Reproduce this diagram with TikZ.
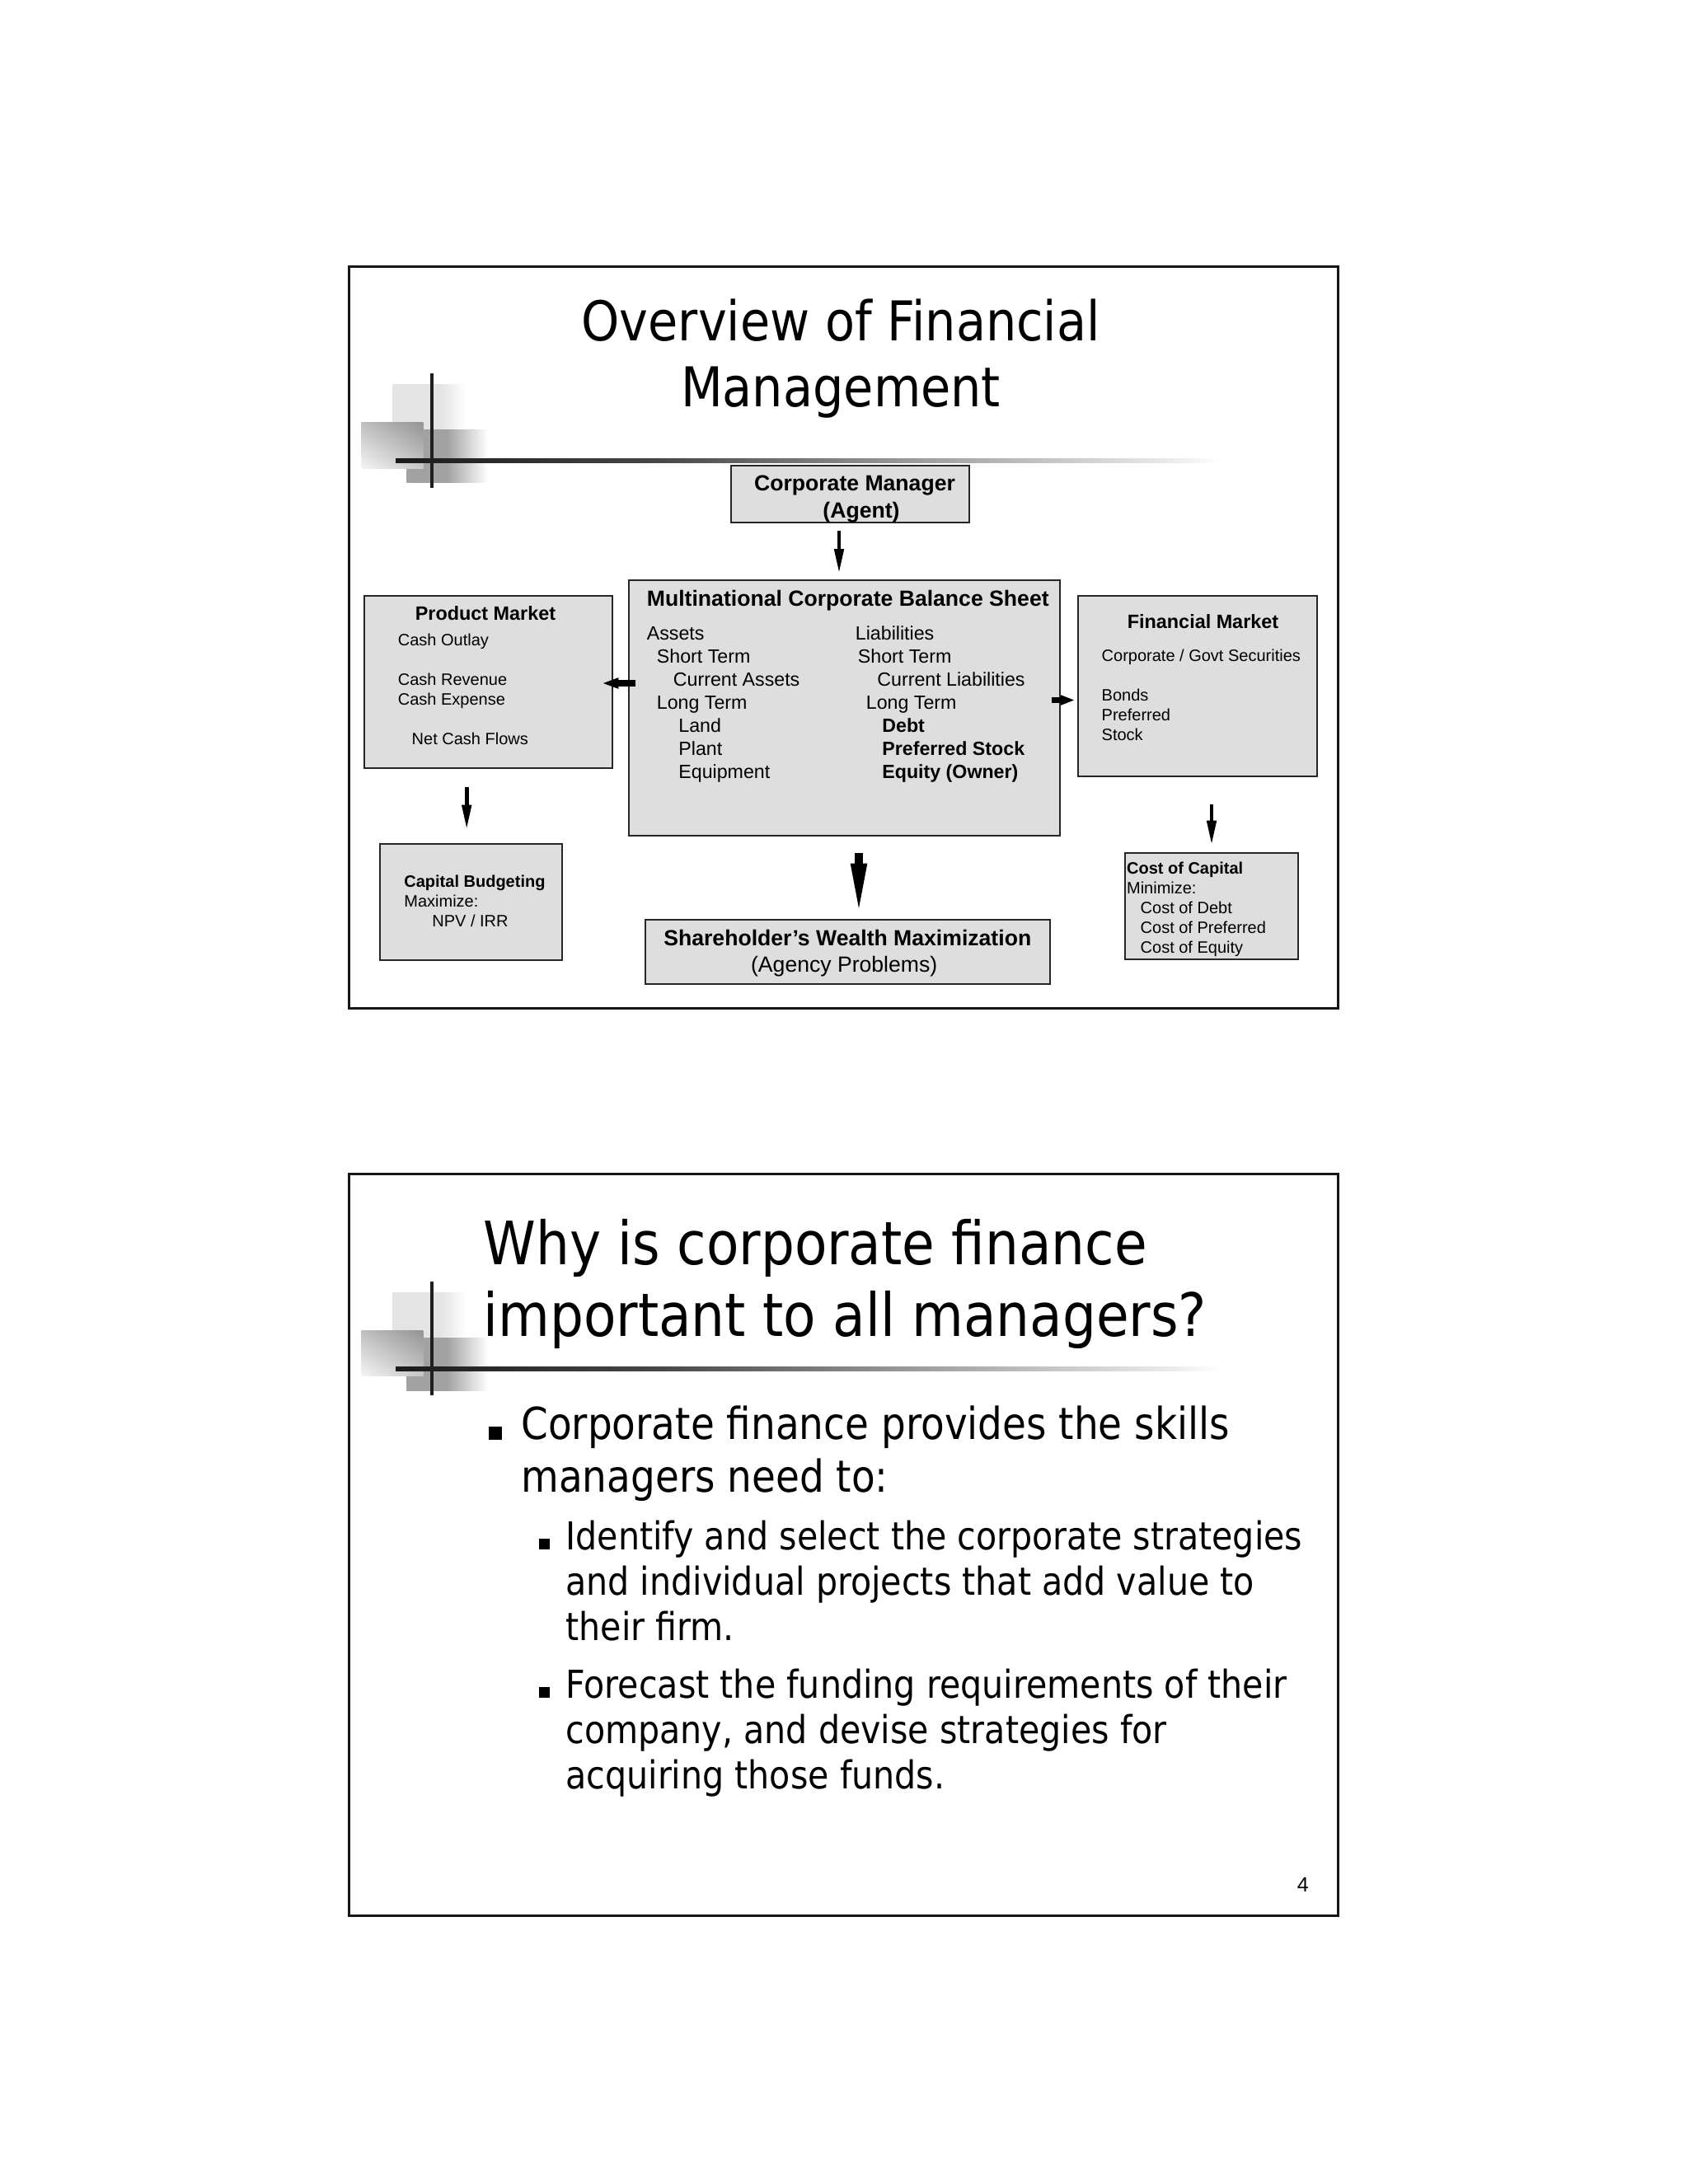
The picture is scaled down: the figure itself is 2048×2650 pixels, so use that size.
\documentclass[tikz,border=0pt]{standalone}
\usepackage{fontspec}
\setmainfont{Liberation Sans}
\newfontfamily\tahA[FakeStretch=0.884]{DejaVu Sans}
\newfontfamily\tahB[FakeStretch=0.888]{DejaVu Sans}
\newfontfamily\tahC[FakeStretch=0.877]{DejaVu Sans}
\newfontfamily\tahD[FakeStretch=0.882]{DejaVu Sans}
\usetikzlibrary{arrows.meta,fit,calc,shadings}
\definecolor{boxfill}{RGB}{222,222,222}
\definecolor{boxline}{RGB}{38,38,38}
\definecolor{framecol}{RGB}{22,22,22}
\definecolor{sqlight}{RGB}{228,228,228}
\definecolor{sqdark}{RGB}{162,162,162}
\pgfdeclarehorizontalshading{lightsq}{100bp}{color(0bp)=(sqlight); color(58bp)=(sqlight); color(75bp)=(white); color(100bp)=(white)}
\pgfdeclarehorizontalshading{darksq}{100bp}{color(0bp)=(sqdark); color(50bp)=(sqdark); color(75bp)=(white); color(100bp)=(white)}
\pgfdeclarehorizontalshading{hlineshade}{100bp}{color(0bp)=(black!90); color(25bp)=(black!90); color(41bp)=(black!72); color(57bp)=(black!38); color(72bp)=(black!8); color(75bp)=(white); color(100bp)=(white)}
\newcommand\slidedeco{%
  \shade[shading=lightsq] (476.7,466.7) rectangle (565,522);
  \shade[shading=darksq] (493.3,521.7) rectangle (591.7,585.7);
  \shade[upper right=black!42, upper left=black!25, lower right=black!22, lower left=black!4] (438.3,512.7) rectangle (513.3,568.3);
  \shade[shading=hlineshade] (480,556.5) rectangle (1480,561.5);
  \draw[line width=2.2pt, black!88] (524,453.3) -- (524,591.7);
}
\begin{document}
\begin{tikzpicture}[x=0.5pt,y=-0.5pt,
  frame/.style={draw=framecol, line width=1.6pt, inner sep=0pt},
  fbox/.style={draw=boxline, fill=boxfill, line width=1pt, inner sep=0pt},
  txt/.style={anchor=base west, inner sep=0pt},
  ctxt/.style={anchor=base, inner sep=0pt},
  bul/.style={fill=black, inner sep=0pt, minimum size=#1},
  tarrow/.style={draw=black, line width=2.3pt, -{Triangle[length=15pt,width=5.5pt]}},
  larrow/.style={draw=black, line width=3.6pt, -{Triangle[length=10pt,width=6pt]}},
  rarrow/.style={draw=black, line width=3.2pt, -{Triangle[length=8.5pt,width=5.5pt]}},
  barrow/.style={draw=black, line width=4.7pt, -{Triangle[length=32pt,width=8.7pt]}},
  titleA/.style={font=\tahA\fontsize{33.3}{40}\selectfont},
  titleB/.style={font=\tahB\fontsize{36.3}{43.5}\selectfont},
  bulA/.style={font=\tahC\fontsize{26.75}{31.7}\selectfont},
  bulB/.style={font=\tahD\fontsize{23.35}{27.5}\selectfont},
  hbig/.style={font=\fontsize{13.3}{16}\selectfont\bfseries},
  nbig/.style={font=\fontsize{13.3}{16}\selectfont},
  hmid/.style={font=\fontsize{11.7}{14}\selectfont\bfseries},
  nmid/.style={font=\fontsize{11.6}{14}\selectfont},
  bmid/.style={font=\fontsize{11.6}{14}\selectfont\bfseries},
  hsm/.style={font=\fontsize{10}{12}\selectfont\bfseries},
  nsm/.style={font=\fontsize{10}{12}\selectfont}
]
\useasboundingbox (0,0) rectangle (2048,2650);
\fill[white] (0,0) rectangle (2048,2650);

% ---------------- Slide 1 ----------------
\node[frame, fit={(423.5,323.3)(1623.5,1223.3)}] (slideA) {};
\begin{scope}
\slidedeco
\end{scope}
\node[ctxt, titleA] (tA1) at (1020,413.3) {Overview of Financial};
\node[ctxt, titleA] (tA2) at (1020,493.3) {Management};

% boxes
\node[fbox, fit={(886.6,565)(1176,634)}] (cm) {};
\node[fbox, fit={(762.5,704)(1285.7,1014)}] (bs) {};
\node[fbox, fit={(441.7,722.7)(742.8,931.7)}] (pm) {};
\node[fbox, fit={(1308.3,722.7)(1598.3,941.7)}] (fm) {};
\node[fbox, fit={(460.8,1024.3)(681.9,1165)}] (cb) {};
\node[fbox, fit={(782.8,1115.7)(1273.8,1194.3)}] (swm) {};
\node[fbox, fit={(1365,1035)(1575,1164)}] (coc) {};

% corporate manager
\node[ctxt, hbig] (cm1) at (1037,595.5) {Corporate Manager};
\node[ctxt, hbig] (cm2) at (1045,628.5) {(Agent)};

% balance sheet
\node[txt, hbig] (bsT) at (784.5,735.7) {Multinational Corporate Balance Sheet};
\node[txt, nmid] (bsa1) at (784.5,776) {Assets};
\node[txt, nmid] (bsa2) at (796.5,804) {Short Term};
\node[txt, nmid] (bsa3) at (816.5,832) {Current Assets};
\node[txt, nmid] (bsa4) at (796.5,860.7) {Long Term};
\node[txt, nmid] (bsa5) at (823,888.7) {Land};
\node[txt, nmid] (bsa6) at (823,916.7) {Plant};
\node[txt, nmid] (bsa7) at (823,944.7) {Equipment};
\node[txt, nmid] (bsl1) at (1037.5,776) {Liabilities};
\node[txt, nmid] (bsl2) at (1040.5,804) {Short Term};
\node[txt, nmid] (bsl3) at (1064,832) {Current Liabilities};
\node[txt, nmid] (bsl4) at (1050.5,860.7) {Long Term};
\node[txt, bmid] (bsl5) at (1070,888.7) {Debt};
\node[txt, bmid] (bsl6) at (1070,916.7) {Preferred Stock};
\node[txt, bmid] (bsl7) at (1070,944.7) {Equity (Owner)};

% product market
\node[ctxt, hmid] (pmT) at (589,752.7) {Product Market};
\node[txt, nsm] (pm1) at (482.5,783.3) {Cash Outlay};
\node[txt, nsm] (pm2) at (482.5,831.7) {Cash Revenue};
\node[txt, nsm] (pm3) at (482.5,855.7) {Cash Expense};
\node[txt, nsm] (pm4) at (499.3,903.3) {Net Cash Flows};

% financial market
\node[ctxt, hmid] (fmT) at (1459.5,762.7) {Financial Market};
\node[txt, nsm] (fm1) at (1336.3,802.7) {Corporate / Govt Securities};
\node[txt, nsm] (fm2) at (1336.3,850.7) {Bonds};
\node[txt, nsm] (fm3) at (1336.3,874.7) {Preferred};
\node[txt, nsm] (fm4) at (1336.3,898.3) {Stock};

% capital budgeting
\node[txt, hsm] (cbT) at (490,1076.7) {Capital Budgeting};
\node[txt, nsm] (cb1) at (490,1100) {Maximize:};
\node[txt, nsm] (cb2) at (524,1124) {NPV / IRR};

% shareholder
\node[ctxt, hbig] (swT) at (1028.3,1147.7) {Shareholder’s Wealth Maximization};
\node[ctxt, nbig] (sw1) at (1024.2,1179.5) {(Agency Problems)};

% cost of capital
\node[txt, hsm] (cocT) at (1366.7,1060) {Cost of Capital};
\node[txt, nsm] (coc1) at (1366.7,1084) {Minimize:};
\node[txt, nsm] (coc2) at (1383.3,1108) {Cost of Debt};
\node[txt, nsm] (coc3) at (1383.3,1132.3) {Cost of Preferred};
\node[txt, nsm] (coc4) at (1383.3,1156) {Cost of Equity};

% arrows
\coordinate (a1x) at (1018,0);
\coordinate (a2y) at (0,829);
\coordinate (a3y) at (0,849.5);
\coordinate (a4x) at (566.2,0);
\coordinate (a5x) at (1042,0);
\coordinate (a6x) at (1470,0);
\draw[tarrow, shorten <=4.5pt, shorten >=3.5pt] (cm.south -| a1x) -- (bs.north -| a1x);
\draw[larrow, shorten <=-4.6pt, shorten >=-6.7pt] (bs.west |- a2y) -- (pm.east |- a2y);
\draw[rarrow, shorten <=-5.5pt, shorten >=1.6pt] (bs.east |- a3y) -- (fm.west |- a3y);
\draw[tarrow, shorten <=11.2pt, shorten >=8.3pt] (pm.south -| a4x) -- (cb.north -| a4x);
\draw[barrow, shorten <=10pt, shorten >=1.5pt] (bs.south -| a5x) -- (swm.north -| a5x);
\draw[tarrow, shorten <=16.6pt, shorten >=4.2pt] (fm.south -| a6x) -- (coc.north -| a6x);

% ---------------- Slide 2 ----------------
\node[frame, fit={(423.5,1424.5)(1623.5,2324.5)}] (slideB) {};
\begin{scope}[shift={(0,1101.5)}]
\slidedeco
\end{scope}
\node[txt, titleB] (tB1) at (586,1534.3) {Why is corporate finance};
\node[txt, titleB] (tB2) at (586,1621.7) {important to all managers?};

\node[bul=8pt] (b1) at (601,1738.5) {};
\node[txt, bulA] (l1) at (632,1746.7) {Corporate finance provides the skills};
\node[txt, bulA] (l2) at (632,1810) {managers need to:};

\node[bul=6.5pt] (b2) at (660.5,1873.5) {};
\node[txt, bulB] (l3) at (686,1880) {Identify and select the corporate strategies};
\node[txt, bulB] (l4) at (686,1935) {and individual projects that add value to};
\node[txt, bulB] (l5) at (686,1990) {their firm.};

\node[bul=6.5pt] (b3) at (660.5,2053.5) {};
\node[txt, bulB] (l6) at (686,2060) {Forecast the funding requirements of their};
\node[txt, bulB] (l7) at (686,2115) {company, and devise strategies for};
\node[txt, bulB] (l8) at (686,2170) {acquiring those funds.};

\node[txt, font=\fontsize{12.5}{15}\selectfont] (pg) at (1573.5,2295) {4};
\end{tikzpicture}
\end{document}
